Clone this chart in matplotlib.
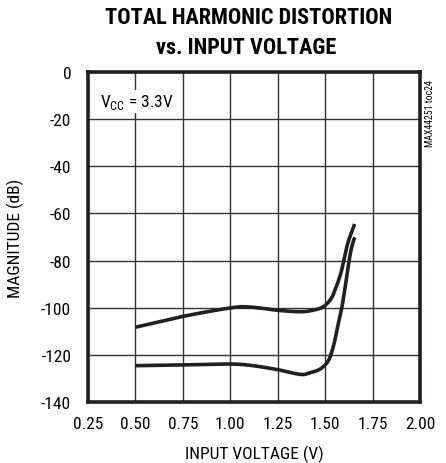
import matplotlib.pyplot as plt
import numpy as np

# THD vs input voltage
v_upper = [0.50, 0.75, 1.00, 1.10, 1.25, 1.37, 1.44, 1.49, 1.53, 1.55, 1.57, 1.588, 1.605, 1.623, 1.655]
thd_upper = [-108.3, -103.7, -100.1, -99.7, -101.1, -101.7, -101.0, -99.6, -96.3, -92.8, -88.5, -83.6, -77.2, -71.6, -64.5]

v_lower = [0.50, 0.75, 1.00, 1.12, 1.25, 1.37, 1.42, 1.474, 1.517, 1.544, 1.563, 1.585, 1.600, 1.612, 1.632, 1.649, 1.657]
thd_lower = [-124.6, -124.3, -123.9, -124.6, -126.3, -128.3, -127.6, -126.0, -122.4, -116.1, -109.0, -101.0, -94.0, -87.5, -77.2, -71.6, -70.2]

x_ticks = [0.25, 0.50, 0.75, 1.00, 1.25, 1.50, 1.75, 2.00]
y_ticks = [0, -20, -40, -60, -80, -100, -120, -140]

FONT = ['Roboto Condensed', 'DejaVu Sans']


def smooth(x, y):
    # Catmull-Rom curve through the read points
    pts = np.column_stack([np.asarray(x, float), np.asarray(y, float)])
    p = np.vstack([pts[0], pts, pts[-1]])
    out = []
    for i in range(1, len(p) - 2):
        t = np.linspace(0, 1, 20, endpoint=False)[:, None]
        p0, p1, p2, p3 = p[i - 1], p[i], p[i + 1], p[i + 2]
        seg = 0.5 * ((2 * p1) + (-p0 + p2) * t + (2 * p0 - 5 * p1 + 4 * p2 - p3) * t ** 2
                     + (-p0 + 3 * p1 - 3 * p2 + p3) * t ** 3)
        out.append(seg)
    out.append(pts[-1][None, :])
    out = np.vstack(out)
    return out[:, 0], out[:, 1]


def main():
    fig = plt.figure(figsize=(4.46, 4.64), dpi=100)
    ax = fig.add_axes([0.197, 0.1315, 0.745, 0.7112])

    xs, ys = smooth(v_upper, thd_upper)
    ax.plot(xs, ys, color='#231f20', lw=2.6, solid_capstyle='butt')
    xs, ys = smooth(v_lower, thd_lower)
    ax.plot(xs, ys, color='#231f20', lw=2.6, solid_capstyle='butt')

    ax.set_xlim(0.25, 2.00)
    ax.set_ylim(-140, 0)
    ax.set_xticks(x_ticks)
    ax.set_yticks(y_ticks)
    ax.set_xticklabels(['%.2f' % t for t in x_ticks], family=FONT, fontsize=12.5)
    ax.set_yticklabels(['%d' % t for t in y_ticks], family=FONT, fontsize=12.5)
    ax.tick_params(axis='x', length=0, pad=10)
    ax.tick_params(axis='y', length=0, pad=12)
    ax.grid(True, color='#333333', lw=1.0)
    ax.set_axisbelow(True)
    for s in ax.spines.values():
        s.set_linewidth(2.6)
        s.set_color('#231f20')

    ax.set_xlabel('INPUT VOLTAGE (V)', family=FONT, fontsize=12.5, labelpad=10)
    ax.set_ylabel('MAGNITUDE (dB)', family=FONT, fontsize=12.5, labelpad=12)

    fig.text(0.557, 0.961, 'TOTAL HARMONIC DISTORTION', ha='center', va='center',
             family=FONT, fontsize=16, fontweight='black')
    fig.text(0.552, 0.896, 'vs. INPUT VOLTAGE', ha='center', va='center',
             family=FONT, fontsize=16, fontweight='black')

    ax.text(0.313, -8.5, r'V$_{\mathregular{CC}}$ = 3.3V', ha='left', va='top',
            family=FONT, fontsize=12.5, bbox=dict(fc='white', ec='none', pad=1.5))
    fig.text(0.964, 0.756, 'MAX44251 toc24', rotation=90, ha='center', va='center',
             family=FONT, fontsize=7)

    plt.savefig('out.png', dpi=100)


if __name__ == '__main__':
    main()
